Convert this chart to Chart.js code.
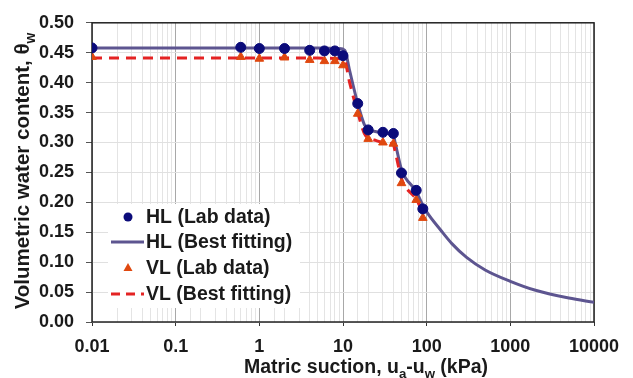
<!DOCTYPE html>
<html>
<head>
<meta charset="utf-8">
<script src="https://cdn.jsdelivr.net/npm/chart.js@4/dist/chart.umd.min.js"></script>
<style>
  html, body { margin: 0; padding: 0; background: #fff; }
</style>
</head>
<body>
<canvas id="Chart" width="633" height="378"></canvas>
<script>
// ラボデータ (matric suction, kPa)
let labSuction = [0.01, 0.6, 1, 2, 4, 6, 8, 10, 15, 20, 30, 40, 50, 75, 90];
let hlLab = [0.458, 0.459, 0.457, 0.457, 0.454, 0.453, 0.453, 0.445, 0.365, 0.321, 0.317, 0.315, 0.249, 0.220, 0.189];
let vlLab = [0.443, 0.443, 0.440, 0.442, 0.438, 0.436, 0.436, 0.429, 0.348, 0.306, 0.300, 0.298, 0.232, 0.204, 0.174];

// フィッティング曲線
let hlFitSuction = [0.01, 1, 5, 9, 10.5, 12, 15, 18, 20, 25, 30, 40, 42, 50, 75, 90, 100, 150, 200, 300, 500, 1000, 2000, 5000, 10000];
let hlFit = [0.458, 0.458, 0.458, 0.457, 0.454, 0.420, 0.365, 0.330, 0.322, 0.318, 0.316, 0.312, 0.300, 0.255, 0.218, 0.195, 0.184, 0.152, 0.131, 0.108, 0.087, 0.068, 0.053, 0.040, 0.033];
let vlFitSuction = [0.01, 1, 5, 9, 10.5, 12, 15, 18, 20, 25, 30, 40, 42, 50, 75, 90, 100];
let vlFit = [0.441, 0.441, 0.441, 0.440, 0.436, 0.400, 0.350, 0.315, 0.308, 0.303, 0.300, 0.296, 0.285, 0.240, 0.205, 0.185, 0.178];

let seriesLabels = ['HL (Lab data)', 'HL (Best fitting)', 'VL (Lab data)', 'VL (Best fitting)'];
let xTickLabels = ['0.01', '0.1', '1', '10', '100', '1000', '10000'];

let FONT = "'Liberation Sans', Arial, sans-serif";
let TEXT = '#1a1a1a';
let NAVY = '#0b0b7a';
let PURPLE = '#5d5590';
let ORANGE = '#e0480f';
let RED = '#e42323';

function pairs(xs, ys) {
  return xs.map((x, i) => ({ x: x, y: ys[i] }));
}
function isDecade(v) {
  let l = Math.log10(v);
  return Math.abs(l - Math.round(l)) < 1e-6;
}

// 下付き文字つきテキスト
function drawRich(ctx, parts, cx, baseY, size) {
  let w = 0;
  parts.forEach(p => {
    ctx.font = 'bold ' + (p.sub ? size * 0.68 : size) + 'px ' + FONT;
    p.w = ctx.measureText(p.t).width;
    w += p.w;
  });
  let x = cx - w / 2;
  ctx.textAlign = 'left';
  ctx.textBaseline = 'alphabetic';
  parts.forEach(p => {
    ctx.font = 'bold ' + (p.sub ? size * 0.68 : size) + 'px ' + FONT;
    ctx.fillText(p.t, x, baseY + (p.sub ? size * 0.28 : 0));
    x += p.w;
  });
}

let overlay = {
  id: 'overlay',
  beforeDatasetsDraw(chart) {
    let ctx = chart.ctx, a = chart.chartArea;
    ctx.save();
    // 凡例の背景
    ctx.fillStyle = '#ffffff';
    ctx.fillRect(108, 204, 192, 104);
    // 枠
    ctx.strokeStyle = '#222';
    ctx.lineWidth = 1.5;
    ctx.strokeRect(a.left, a.top, a.right - a.left, a.bottom - a.top);
    ctx.restore();
  },
  afterDraw(chart) {
    let ctx = chart.ctx;
    ctx.save();
    ctx.fillStyle = TEXT;
    // 軸タイトル
    drawRich(ctx, [{ t: 'Matric suction, u' }, { t: 'a', sub: true }, { t: '-u' }, { t: 'w', sub: true }, { t: ' (kPa)' }], 366, 373, 19.5);
    ctx.save();
    ctx.translate(29, 171);
    ctx.rotate(-Math.PI / 2);
    drawRich(ctx, [{ t: 'Volumetric water content, \u03b8' }, { t: 'w', sub: true }], 0, 0, 20.5);
    ctx.restore();

    // 凡例
    let rows = [217, 242, 268, 294];
    let mx = 128;
    ctx.font = 'bold 19.5px ' + FONT;
    ctx.textBaseline = 'middle';
    ctx.textAlign = 'left';
    seriesLabels.forEach((lab, i) => {
      let y = rows[i];
      ctx.fillStyle = TEXT;
      ctx.fillText(lab, 146, y + 1);
      if (i === 0) {
        ctx.fillStyle = NAVY;
        ctx.beginPath();
        ctx.arc(mx, y, 4.5, 0, Math.PI * 2);
        ctx.fill();
      } else if (i === 2) {
        ctx.fillStyle = ORANGE;
        ctx.beginPath();
        ctx.moveTo(mx, y - 5);
        ctx.lineTo(mx + 4.5, y + 3);
        ctx.lineTo(mx - 4.5, y + 3);
        ctx.closePath();
        ctx.fill();
      } else {
        ctx.strokeStyle = i === 1 ? PURPLE : RED;
        ctx.lineWidth = 3;
        ctx.setLineDash(i === 1 ? [] : [9, 6]);
        ctx.beginPath();
        ctx.moveTo(111, y);
        ctx.lineTo(144, y);
        ctx.stroke();
        ctx.setLineDash([]);
      }
    });
    ctx.restore();
  }
};

let chartCtx = document.getElementById('Chart');
let chartConfig = {
  type: 'scatter',
  data: {
    datasets: [
      {
        label: seriesLabels[0],
        data: pairs(labSuction, hlLab),
        backgroundColor: NAVY,
        borderColor: NAVY,
        pointRadius: 5,
        pointStyle: 'circle',
        showLine: false,
        order: 0
      },
      {
        label: seriesLabels[2],
        data: pairs(labSuction, vlLab),
        backgroundColor: ORANGE,
        borderColor: ORANGE,
        pointRadius: 5,
        pointStyle: 'triangle',
        showLine: false,
        order: 1
      },
      {
        label: seriesLabels[3],
        data: pairs(vlFitSuction, vlFit),
        borderColor: RED,
        borderWidth: 3,
        borderDash: [10, 7],
        pointRadius: 0,
        showLine: true,
        cubicInterpolationMode: 'monotone',
        order: 2
      },
      {
        label: seriesLabels[1],
        data: pairs(hlFitSuction, hlFit),
        borderColor: PURPLE,
        borderWidth: 3,
        pointRadius: 0,
        showLine: true,
        cubicInterpolationMode: 'monotone',
        order: 3
      }
    ]
  },
  options: {
    responsive: false,
    animation: false,
    layout: { padding: { top: 15, right: 39, left: 0, bottom: 0 } },
    plugins: { legend: { display: false }, tooltip: { enabled: false } },
    scales: {
      x: {
        type: 'logarithmic',
        min: 0.01,
        max: 10000,
        afterFit(scale) { scale.height = 56; },
        border: { display: false },
        grid: {
          color: c => isDecade(c.tick.value) ? '#a8a8a8' : '#e4e4e4',
          tickColor: c => isDecade(c.tick.value) ? '#333' : 'rgba(0,0,0,0)',
          tickLength: 4
        },
        ticks: {
          autoSkip: false,
          maxRotation: 0,
          padding: 10,
          color: TEXT,
          font: { family: FONT, size: 18, weight: 'bold' },
          callback: v => isDecade(v) ? xTickLabels[Math.round(Math.log10(v)) + 2] : ''
        }
      },
      y: {
        min: 0,
        max: 0.5,
        afterFit(scale) { scale.width = 92; },
        border: { display: false },
        grid: { color: '#e0e0e0', tickColor: '#555', tickLength: 6 },
        ticks: {
          stepSize: 0.05,
          padding: 12,
          color: TEXT,
          font: { family: FONT, size: 18, weight: 'bold' },
          callback: v => v.toFixed(2)
        }
      }
    }
  },
  plugins: [overlay]
};
let lineChart = new Chart(chartCtx, chartConfig);
</script>
</body>
</html>
